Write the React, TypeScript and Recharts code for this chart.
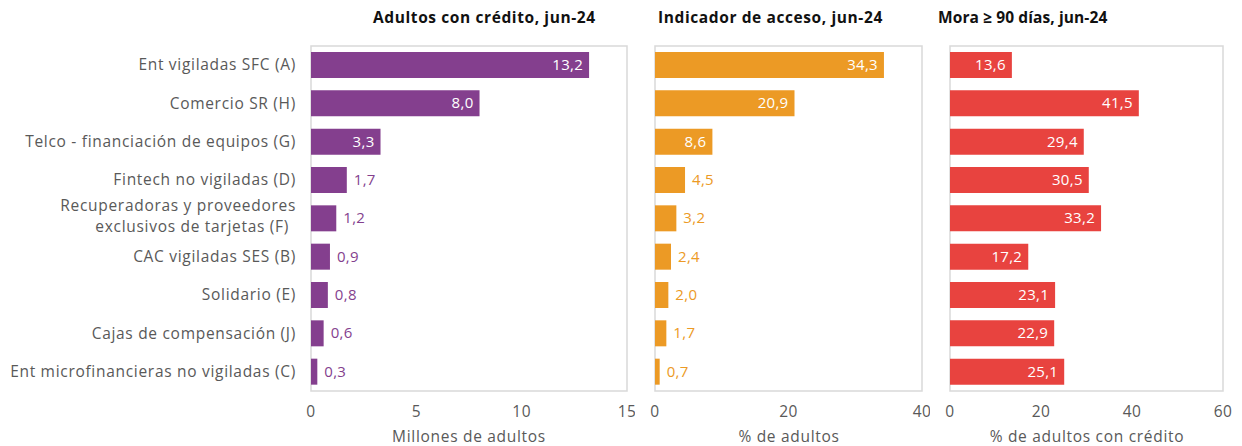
import { BarChart, Bar, XAxis, YAxis, LabelList, ReferenceArea } from 'recharts'

const categories = [
  'Ent vigiladas SFC (A)',
  'Comercio SR (H)',
  'Telco - financiación de equipos (G)',
  'Fintech no vigiladas (D)',
  'Recuperadoras y proveedores|exclusivos de tarjetas (F)',
  'CAC vigiladas SES (B)',
  'Solidario (E)',
  'Cajas de compensación (J)',
  'Ent microfinancieras no vigiladas (C)',
]
const adultosCredito = [13.2, 8.0, 3.3, 1.7, 1.2, 0.9, 0.8, 0.6, 0.3]
const indicadorAcceso = [34.3, 20.9, 8.6, 4.5, 3.2, 2.4, 2.0, 1.7, 0.7]
const moraMas90 = [13.6, 41.5, 29.4, 30.5, 33.2, 17.2, 23.1, 22.9, 25.1]

const ticks1 = [0, 5, 10, 15]
const ticks2 = [0, 20, 40]
const ticks3 = [0, 20, 40, 60]

const FONT = '"Open Sans", sans-serif'
const GREY = '#595959'
const BORDER = '#d9d9d9'
const PURPLE = '#843f8e'
const ORANGE = '#ec9a25'
const RED = '#e8433f'

const fmt = (v: number) => v.toFixed(1).replace('.', ',')

const rows = categories.map((cat, i) => ({
  cat,
  a: adultosCredito[i],
  b: indicadorAcceso[i],
  c: moraMas90[i],
}))

// category label, "|" splits onto two lines
const CategoryTick = (props: any) => {
  const { x, y, payload } = props
  const lines = String(payload.value).split('|')
  const common = { textAnchor: 'end' as const, fill: GREY, fontSize: 15.5, fontFamily: FONT, letterSpacing: 0.7 }
  if (lines.length === 1) {
    return (
      <text x={x} y={y} dy={5} {...common}>
        {lines[0]}
      </text>
    )
  }
  return (
    <g>
      <text x={x} y={y - 8} {...common}>{lines[0]}</text>
      <text x={x - 7} y={y + 13} {...common}>{lines[1]}</text>
    </g>
  )
}

// white label inside the bar when it fits, coloured label after it otherwise
const makeValueLabel = (threshold: number, color: string) => (props: any) => {
  const { x, y, width, height, value } = props
  const inside = value >= threshold
  return (
    <text
      x={inside ? x + width - 6 : x + width + 7}
      y={y + height / 2}
      dy={5}
      textAnchor={inside ? 'end' : 'start'}
      fill={inside ? '#ffffff' : color}
      fontSize={15}
      fontFamily={FONT}
      letterSpacing={0.3}
    >
      {fmt(value)}
    </text>
  )
}

interface PanelProps {
  left: number
  width: number
  dataKey: string
  color: string
  max: number
  ticks: number[]
  threshold: number
  showCategories?: boolean
  marginLeft: number
  marginRight: number
}

const Panel = ({ left, width, dataKey, color, max, ticks, threshold, showCategories, marginLeft, marginRight }: PanelProps) => (
  <div style={{ position: 'absolute', left, top: 0 }}>
    <BarChart
      width={width}
      height={446}
      data={rows}
      layout="vertical"
      margin={{ top: 46, right: marginRight, left: marginLeft, bottom: 0 }}
      style={{ overflow: 'visible' }}
    >
      <XAxis
        type="number"
        domain={[0, max]}
        ticks={ticks}
        height={55}
        axisLine={false}
        tickLine={false}
        tickSize={0}
        tickMargin={15}
        tick={{ fill: GREY, fontSize: 15.5, fontFamily: FONT, letterSpacing: 0.5 }}
        interval={0}
      />
      <YAxis
        type="category"
        dataKey="cat"
        hide={!showCategories}
        width={showCategories ? 311 : 0}
        axisLine={false}
        tickLine={false}
        tickSize={0}
        tickMargin={15}
        tick={<CategoryTick />}
        interval={0}
      />
      <ReferenceArea x1={0} x2={max} fill="none" stroke={BORDER} strokeWidth={1.5} />
      <Bar dataKey={dataKey} fill={color} barSize={26} isAnimationActive={false}>
        <LabelList dataKey={dataKey} content={makeValueLabel(threshold, color)} />
      </Bar>
    </BarChart>
  </div>
)

const titleStyle = (left: number, spacing: number): React.CSSProperties => ({
  position: 'absolute',
  left,
  top: 6,
  fontFamily: FONT,
  fontWeight: 700,
  fontSize: 15.5,
  letterSpacing: spacing,
  color: '#111111',
  whiteSpace: 'nowrap',
})

const axisTitleStyle = (center: number): React.CSSProperties => ({
  position: 'absolute',
  left: center - 150,
  width: 300,
  textAlign: 'center',
  top: 425,
  fontFamily: FONT,
  fontSize: 15.5,
  letterSpacing: 0.7,
  color: GREY,
  whiteSpace: 'nowrap',
})

export default function App() {
  return (
    <div style={{ position: 'absolute', left: 0, top: 0, width: 1242, height: 446, background: '#fff', overflow: 'hidden' }}>
      <div style={titleStyle(373, 0.6)}>Adultos con crédito, jun-24</div>
      <div style={titleStyle(658, 0.6)}>Indicador de acceso, jun-24</div>
      <div style={titleStyle(938, 0.1)}>Mora ≥ 90 días, jun-24</div>

      <Panel left={0} width={635} dataKey="a" color={PURPLE} max={15} ticks={ticks1} threshold={3} showCategories marginLeft={0} marginRight={8} />
      <Panel left={645} width={285} dataKey="b" color={ORANGE} max={40} ticks={ticks2} threshold={5} marginLeft={10} marginRight={8} />
      <Panel left={940} width={292} dataKey="c" color={RED} max={60} ticks={ticks3} threshold={0} marginLeft={10} marginRight={9} />

      <div style={axisTitleStyle(469)}>Millones de adultos</div>
      <div style={axisTitleStyle(789)}>% de adultos</div>
      <div style={axisTitleStyle(1087)}>% de adultos con crédito</div>
    </div>
  )
}
